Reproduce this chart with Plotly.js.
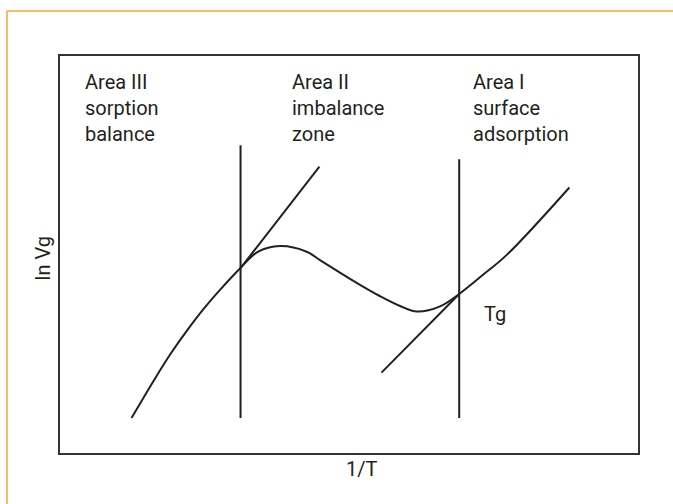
<!DOCTYPE html>
<html>
<head>
<meta charset="utf-8">
<script src="https://cdn.plot.ly/plotly-3.0.1.min.js"></script>
<style>html,body{margin:0;padding:0;background:#fff;}#chart{width:673px;height:504px;}</style>
</head>
<body>
<div id="chart"></div>
<script>
// Schematic curve: ln Vg vs 1/T (arbitrary units)
const curveX = [1.25, 1.63, 1.91, 2.20, 2.49, 2.78, 3.12, 3.42, 3.81, 4.27, 4.50, 4.85, 5.19, 5.53, 5.88, 6.17, 6.57, 6.90, 7.31, 7.72, 8.80];
const curveY = [0.90, 1.83, 2.48, 3.08, 3.63, 4.12, 4.65, 5.06, 5.21, 5.07, 4.86, 4.54, 4.24, 3.96, 3.71, 3.57, 3.70, 4.01, 4.49, 4.99, 6.68];
// Boundary lines between areas
const boundX = [3.13, 6.90];
const boundTop = [7.74, 7.39];
const boundBottom = [0.90, 0.90];
// Tangent lines
const tangent1X = [3.13, 4.49];
const tangent1Y = [4.66, 7.20];
const tangent2X = [5.56, 6.90];
const tangent2Y = [2.04, 4.01];
// Labels
const areaLabels = ["Area III<br>sorption<br>balance", "Area II<br>imbalance<br>zone", "Area I<br>surface<br>adsorption"];
const areaLabelX = [0.41, 3.98, 7.11];
const tgLabel = "Tg";
const xTitle = "1/T";
const yTitle = "ln Vg";

const ink = '#231f20';
const traces = [];
traces.push({x: curveX, y: curveY, mode: 'lines', line: {color: ink, width: 2, shape: 'spline', smoothing: 1}, hoverinfo: 'skip'});
for (let i = 0; i < boundX.length; i++) {
  traces.push({x: [boundX[i], boundX[i]], y: [boundBottom[i], boundTop[i]], mode: 'lines', line: {color: ink, width: 2}, hoverinfo: 'skip'});
}
traces.push({x: tangent1X, y: tangent1Y, mode: 'lines', line: {color: ink, width: 2}, hoverinfo: 'skip'});
traces.push({x: tangent2X, y: tangent2Y, mode: 'lines', line: {color: ink, width: 2}, hoverinfo: 'skip'});

const font = {family: 'Roboto, sans-serif', size: 20, color: ink};
const annotations = areaLabels.map((t, i) => ({
  text: t, x: areaLabelX[i], y: 9.67, xref: 'x', yref: 'y', xanchor: 'left', yanchor: 'top',
  showarrow: false, align: 'left', font: font
}));
annotations.push({text: tgLabel, x: 7.29, y: 3.50, xref: 'x', yref: 'y', xanchor: 'left', yanchor: 'middle', showarrow: false, font: font});
annotations.push({text: xTitle, x: 0.522, y: -0.0376, xref: 'paper', yref: 'paper', xanchor: 'center', yanchor: 'middle', showarrow: false, font: font});
annotations.push({text: yTitle, x: -0.026, y: 0.49, xref: 'paper', yref: 'paper', xanchor: 'center', yanchor: 'middle', textangle: -90, showarrow: false, font: font});

const layout = {
  width: 673, height: 504,
  margin: {l: 59, r: 34, t: 55, b: 50},
  paper_bgcolor: '#ffffff', plot_bgcolor: '#ffffff',
  showlegend: false,
  xaxis: {range: [0, 10], showgrid: false, zeroline: false, showticklabels: false, ticks: '', showline: false, fixedrange: true},
  yaxis: {range: [0, 10], showgrid: false, zeroline: false, showticklabels: false, ticks: '', showline: false, fixedrange: true},
  shapes: [
    {type: 'rect', xref: 'paper', yref: 'paper', x0: 0, x1: 1, y0: 0, y1: 1, line: {color: '#333333', width: 2}},
    {type: 'line', xref: 'paper', yref: 'paper', x0: -52/580, x1: 700/580, y0: 1 + 44/399, y1: 1 + 44/399, line: {color: '#f5a638', width: 1.5}},
    {type: 'line', xref: 'paper', yref: 'paper', x0: -52/580, x1: -52/580, y0: -60/399, y1: 1 + 44/399, line: {color: '#f5a638', width: 1.5}}
  ],
  annotations: annotations
};
Plotly.newPlot('chart', traces, layout, {displayModeBar: false, staticPlot: true});
</script>
</body>
</html>
